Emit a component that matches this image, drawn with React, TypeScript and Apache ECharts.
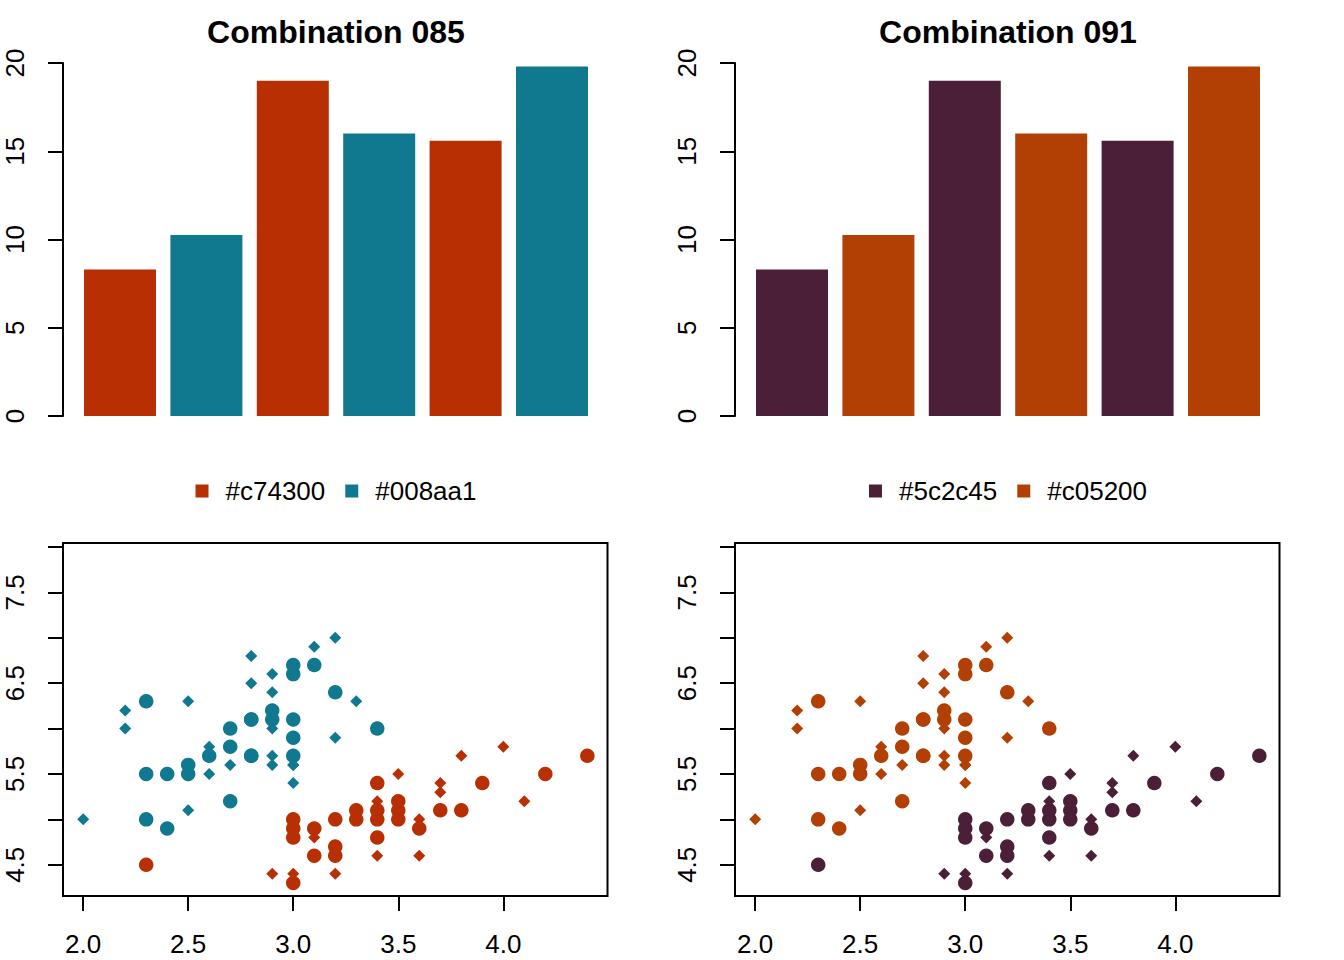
import React, { useEffect, useRef } from "react";
import * as echarts from "echarts";

// ---------- data ----------
const barCategories = ["1", "2", "3", "4", "5", "6"];
const barValues = [8.3, 10.25, 19.0, 16.0, 15.6, 19.8];
const barTicks = [0, 5, 10, 15, 20];

// iris: Sepal.Width (x) vs Sepal.Length (y)
const setosaWidth = [
  3.5, 3.0, 3.2, 3.1, 3.6, 3.9, 3.4, 3.4, 2.9, 3.1,
  3.7, 3.4, 3.0, 3.0, 4.0, 4.4, 3.9, 3.5, 3.8, 3.8,
  3.4, 3.7, 3.6, 3.3, 3.4, 3.0, 3.4, 3.5, 3.4, 3.2,
  3.1, 3.4, 4.1, 4.2, 3.1, 3.2, 3.5, 3.6, 3.0, 3.4,
  3.5, 2.3, 3.2, 3.5, 3.8, 3.0, 3.8, 3.2, 3.7, 3.3,
];
const setosaLength = [
  5.1, 4.9, 4.7, 4.6, 5.0, 5.4, 4.6, 5.0, 4.4, 4.9,
  5.4, 4.8, 4.8, 4.3, 5.8, 5.7, 5.4, 5.1, 5.7, 5.1,
  5.4, 5.1, 4.6, 5.1, 4.8, 5.0, 5.0, 5.2, 5.2, 4.7,
  4.8, 5.4, 5.2, 5.5, 4.9, 5.0, 5.5, 4.9, 4.4, 5.1,
  5.0, 4.5, 4.4, 5.0, 5.1, 4.8, 5.1, 4.6, 5.3, 5.0,
];
const versicolorWidth = [
  3.2, 3.2, 3.1, 2.3, 2.8, 2.8, 3.3, 2.4, 2.9, 2.7,
  2.0, 3.0, 2.2, 2.9, 2.9, 3.1, 3.0, 2.7, 2.2, 2.5,
  3.2, 2.8, 2.5, 2.8, 2.9, 3.0, 2.8, 3.0, 2.9, 2.6,
  2.4, 2.4, 2.7, 2.7, 3.0, 3.4, 3.1, 2.3, 3.0, 2.5,
  2.6, 3.0, 2.6, 2.3, 2.7, 3.0, 2.9, 2.9, 2.5, 2.8,
];
const versicolorLength = [
  7.0, 6.4, 6.9, 5.5, 6.5, 5.7, 6.3, 4.9, 6.6, 5.2,
  5.0, 5.9, 6.0, 6.1, 5.6, 6.7, 5.6, 5.8, 6.2, 5.6,
  5.9, 6.1, 6.3, 6.1, 6.4, 6.6, 6.8, 6.7, 6.0, 5.7,
  5.5, 5.5, 5.8, 6.0, 5.4, 6.0, 6.7, 6.3, 5.6, 5.5,
  5.5, 6.1, 5.8, 5.0, 5.6, 5.7, 5.7, 6.2, 5.1, 5.7,
];

const xRange = [1.904, 4.496];
const yRange = [4.156, 8.044];
const xTicks = [2.0, 2.5, 3.0, 3.5, 4.0];
const yTicks = [4.5, 5.0, 5.5, 6.0, 6.5, 7.0, 7.5, 8.0];
const yTickLabels = [4.5, 5.5, 6.5, 7.5];

const panels = [
  {
    title: "Combination 085",
    names: ["#c74300", "#008aa1"],
    colors: ["#b72f02", "#10788f"],
  },
  {
    title: "Combination 091",
    names: ["#5c2c45", "#c05200"],
    colors: ["#4a1f37", "#b24004"],
  },
];

const FONT = "'Liberation Sans', Arial, Helvetica, sans-serif";

function buildOption(p: (typeof panels)[number]) {
  const axisLineStyle = { color: "#000", width: 2 };
  const labelStyle = { color: "#000", fontSize: 26, fontFamily: FONT };
  const pointItems = (xs: number[], ys: number[]) =>
    xs.map((x, i) => ({
      value: [x, ys[i]],
      symbol: i % 2 === 0 ? "diamond" : "circle",
      symbolSize: i % 2 === 0 ? 12 : 14.5,
    }));

  return {
    animation: false,
    backgroundColor: "#fff",
    title: {
      text: p.title,
      left: "center",
      top: 11,
      textStyle: { fontSize: 32, fontWeight: "bold", color: "#000", fontFamily: FONT },
    },
    legend: {
      data: p.names,
      left: "center",
      top: 473,
      icon: "rect",
      itemWidth: 13,
      itemHeight: 13,
      itemGap: 20,
      selectedMode: false,
      textStyle: { ...labelStyle, padding: [0, 0, 0, 12] },
    },
    grid: [
      { left: 76.8, top: 63, width: 518.4, height: 353 },
      {
        left: 63,
        top: 543,
        width: 544.5,
        height: 353,
        show: true,
        borderColor: "#000",
        borderWidth: 2,
        backgroundColor: "transparent",
      },
    ],
    xAxis: [
      {
        type: "category",
        gridIndex: 0,
        data: barCategories,
        axisLine: { show: false },
        axisTick: { show: false },
        axisLabel: { show: false },
      },
      {
        type: "value",
        gridIndex: 1,
        min: xRange[0],
        max: xRange[1],
        axisLine: { show: false },
        splitLine: { show: false },
        axisTick: { show: true, length: 15, lineStyle: axisLineStyle, customValues: xTicks },
        axisLabel: {
          ...labelStyle,
          margin: 35,
          customValues: xTicks,
          formatter: (v: number) => v.toFixed(1),
        },
      },
    ],
    yAxis: [
      {
        type: "value",
        gridIndex: 0,
        min: barTicks[0],
        max: barTicks[barTicks.length - 1],
        interval: 5,
        offset: 13.8,
        axisLine: { show: true, lineStyle: axisLineStyle },
        axisTick: { show: true, length: 15, lineStyle: axisLineStyle },
        splitLine: { show: false },
        axisLabel: { ...labelStyle, rotate: 90, margin: 35 },
      },
      {
        type: "value",
        gridIndex: 1,
        min: yRange[0],
        max: yRange[1],
        axisLine: { show: false },
        splitLine: { show: false },
        axisTick: { show: true, length: 15, lineStyle: axisLineStyle, customValues: yTicks },
        axisLabel: {
          ...labelStyle,
          rotate: 90,
          margin: 35,
          customValues: yTickLabels,
          formatter: (v: number) => v.toFixed(1),
        },
      },
    ],
    series: [
      ...p.names.map((name, g) => ({
        type: "bar",
        name,
        xAxisIndex: 0,
        yAxisIndex: 0,
        stack: "bars",
        barCategoryGap: "16.67%",
        itemStyle: { color: p.colors[g] },
        data: barValues.map((v, i) => (i % 2 === g ? v : "-")),
      })),
      {
        type: "scatter",
        name: "setosa",
        xAxisIndex: 1,
        yAxisIndex: 1,
        itemStyle: { color: p.colors[0], opacity: 1 },
        data: pointItems(setosaWidth, setosaLength),
      },
      {
        type: "scatter",
        name: "versicolor",
        xAxisIndex: 1,
        yAxisIndex: 1,
        itemStyle: { color: p.colors[1], opacity: 1 },
        data: pointItems(versicolorWidth, versicolorLength),
      },
    ],
  };
}

function Panel({ p, left }: { p: (typeof panels)[number]; left: number }) {
  const ref = useRef<HTMLDivElement>(null);
  useEffect(() => {
    if (!ref.current) return;
    const chart = echarts.init(ref.current, undefined, { renderer: "svg" });
    chart.setOption(buildOption(p) as any);
    return () => chart.dispose();
  }, [p]);
  return (
    <div
      ref={ref}
      style={{ position: "absolute", top: 0, left, width: 672, height: 960 }}
    />
  );
}

export default function App() {
  return (
    <div style={{ position: "absolute", top: 0, left: 0, width: 1344, height: 960, background: "#fff" }}>
      {panels.map((p, i) => (
        <Panel key={p.title} p={p} left={i * 672} />
      ))}
    </div>
  );
}
